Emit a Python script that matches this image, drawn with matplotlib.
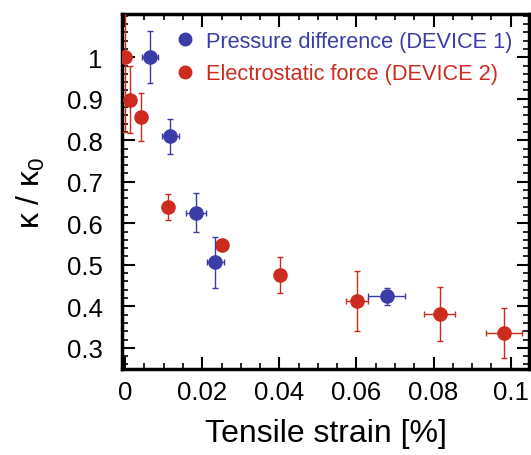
from matplotlib import pyplot as plt
from matplotlib.ticker import MultipleLocator, FixedLocator, FormatStrFormatter
from matplotlib.lines import Line2D
import numpy as np

plt.rcParams['font.family'] = ['Liberation Sans', 'DejaVu Sans']
plt.rcParams['mathtext.default'] = 'regular'

# Device 1 - pressure difference
dev1_x = [0.0065, 0.0117, 0.0183, 0.0234, 0.0678]
dev1_y = [1.0, 0.81, 0.625, 0.506, 0.424]
dev1_xerr = [0.002, 0.0022, 0.0026, 0.0022, 0.0047]
dev1_yerr = [0.062, 0.042, 0.047, 0.062, 0.02]

# Device 2 - electrostatic force
dev2_x = [0.0, 0.0013, 0.0041, 0.0112, 0.0251, 0.0402, 0.0602, 0.0816, 0.0983]
dev2_y = [1.0, 0.898, 0.857, 0.639, 0.547, 0.476, 0.413, 0.382, 0.336]
dev2_xerr = [0.001, 0.001, 0.001, 0.001, 0.001, 0.001, 0.0028, 0.004, 0.0046]
dev2_yerr = [0.18, 0.08, 0.058, 0.032, 0.0, 0.043, 0.073, 0.065, 0.061]

y_major = [0.3, 0.4, 0.5, 0.6, 0.7, 0.8, 0.9, 1.0]

blue = '#3b3ca8'
red = '#cc2b1d'

fig = plt.figure(figsize=(5.31, 4.56), dpi=100)
ax = fig.add_axes([0.2298, 0.1886, 0.7662, 0.7784])

ax.errorbar(dev2_x, dev2_y, xerr=dev2_xerr, yerr=dev2_yerr, fmt='o', color=red,
            ms=9.5, elinewidth=1.0, capsize=2.5, capthick=1.0, ecolor=red, zorder=3)
ax.errorbar(dev1_x, dev1_y, xerr=dev1_xerr, yerr=dev1_yerr, fmt='o', color=blue,
            ms=9.5, elinewidth=1.0, capsize=2.5, capthick=1.0, ecolor=blue, zorder=4)

ax.set_xlim(-0.0008, 0.1047)
ax.set_ylim(0.249, 1.104)

ax.xaxis.set_major_locator(MultipleLocator(0.02))
ax.xaxis.set_minor_locator(MultipleLocator(0.005))
ax.yaxis.set_major_locator(FixedLocator(y_major))
ax.yaxis.set_minor_locator(MultipleLocator(0.02))
ax.xaxis.set_major_formatter(FormatStrFormatter('%g'))
ax.yaxis.set_major_formatter(FormatStrFormatter('%g'))

ax.tick_params(which='both', direction='in', top=True, right=True, labelsize=18.5)
ax.tick_params(which='major', length=9, width=1.5, pad=8)
ax.tick_params(axis='y', which='major', pad=14)
ax.tick_params(which='minor', length=4.5, width=1.2)
for s in ax.spines.values():
    s.set_linewidth(2.5)

ax.set_xlabel('Tensile strain [%]', fontsize=23, labelpad=10)
ax.set_ylabel('κ / κ$_0$', fontsize=23, labelpad=14)

handles = [Line2D([], [], ls='none', marker='o', ms=9, color=blue),
           Line2D([], [], ls='none', marker='o', ms=9, color=red)]
labels = ['Pressure difference (DEVICE 1)', 'Electrostatic force (DEVICE 2)']
leg = ax.legend(handles, labels, loc='upper left', bbox_to_anchor=(0.1, 0.995),
                frameon=False, fontsize=15.7, handlelength=0.6,
                handletextpad=0.7, labelspacing=0.52, borderaxespad=0.3)
for txt, c in zip(leg.get_texts(), [blue, red]):
    txt.set_color(c)

fig.savefig('out.png', dpi=100)
